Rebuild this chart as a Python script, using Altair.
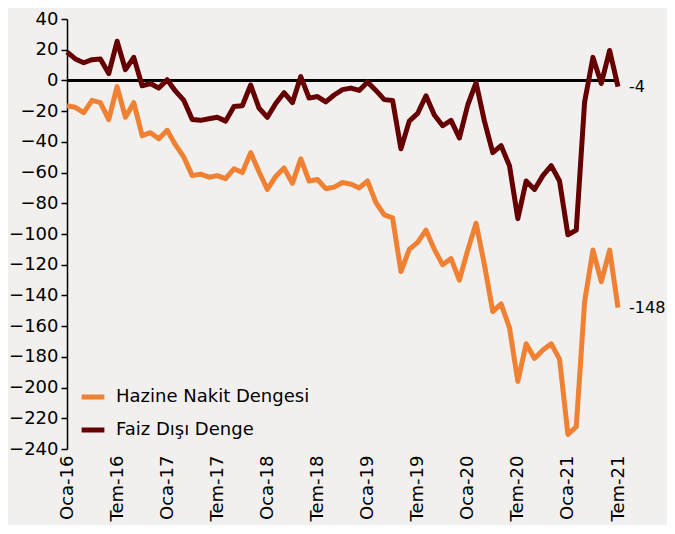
import json
import altair as alt
import pandas as pd

FONT = "DejaVu Sans"

series_names = ["Hazine Nakit Dengesi", "Faiz Dışı Denge"]
series_colors = ["#F08132", "#660000"]

tick_labels = ["Oca-16", "Tem-16", "Oca-17", "Tem-17", "Oca-18", "Tem-18",
               "Oca-19", "Tem-19", "Oca-20", "Tem-20", "Oca-21", "Tem-21"]

# monthly values, Oca-16 ... Tem-21 (67 months)
hazine = [-16.5, -17.5, -21, -13, -14.5, -25.5, -4, -24, -14.5, -36,
          -34, -38, -32.5, -42, -50, -62, -61, -63, -62, -64,
          -57.5, -60, -47, -59.5, -71, -62.5, -57, -67, -51, -65.5,
          -64.5, -70.5, -69.5, -66.5, -67.5, -70, -65.5, -79.5, -87.5, -89.5,
          -124.5, -110, -105.5, -97.5, -110, -120, -116, -130, -110.5, -93,
          -120, -150.5, -145.5, -161, -196, -171.5, -181, -175.5, -171.5, -181.5,
          -230.5, -225.5, -144, -110.5, -131, -110.5, -148]

faiz = [18.5, 14, 11.5, 13.5, 14, 4.5, 25.5, 7, 15, -3.5,
        -2, -5, 0.5, -7, -13, -25.5, -26, -25, -24, -26.5,
        -17, -16.5, -3, -18, -24, -15, -8, -14.5, 2.5, -11.5,
        -10.5, -14, -9.5, -6, -5, -6.5, -1, -6.5, -12.5, -13,
        -44.5, -26.5, -21.5, -10, -22.5, -29.5, -26, -37.5, -16, -1.5,
        -26.5, -47, -42.5, -55.5, -90, -65.5, -71, -62, -55.5, -65.5,
        -100.5, -97.5, -14, 15, -2, 19.5, -4]

end_labels = ["-148", "-4"]

rows = []
for name, vals in zip(series_names, [hazine, faiz]):
    for i, v in enumerate(vals):
        rows.append({"i": i, "v": v, "s": name})
df = pd.DataFrame(rows)

n = len(hazine) - 1
last_df = pd.DataFrame({"i": [n, n], "v": [hazine[-1], faiz[-1]], "t": end_labels})

label_expr = json.dumps(tick_labels) + "[round(datum.value / 6)]"

x_scale = alt.Scale(domain=[0, n], nice=False, zero=False)
y_scale = alt.Scale(domain=[-240, 40], nice=False)

x_axis = alt.Axis(values=list(range(0, n + 1, 6)), labelExpr=label_expr,
                  labelAngle=-90, domain=False, ticks=False, grid=False,
                  labelFont=FONT, labelFontSize=18, labelColor="black",
                  labelPadding=6, labelOverlap=False, title=None)
y_axis = alt.Axis(values=list(range(-240, 41, 20)), grid=False,
                  domainColor="black", domainWidth=1.5, tickColor="black",
                  tickWidth=1.5, tickSize=6, labelFont=FONT, labelFontSize=18,
                  labelColor="black", labelPadding=3, labelOverlap=False,
                  labelBound=False, title=None)

zero = alt.Chart(df).mark_rule(color="black", strokeWidth=2).encode(
    y=alt.YDatum(0, scale=y_scale, axis=y_axis))

lines = alt.Chart(df).mark_line(strokeWidth=5, strokeJoin="round").encode(
    x=alt.X("i:Q", scale=x_scale, axis=x_axis),
    y=alt.Y("v:Q", scale=y_scale, axis=y_axis),
    color=alt.Color("s:N", sort=series_names,
                    scale=alt.Scale(domain=series_names, range=series_colors),
                    legend=alt.Legend(title=None, orient="none", legendX=12, legendY=364,
                                      symbolType="stroke", symbolSize=520,
                                      symbolStrokeWidth=5, labelFont=FONT,
                                      labelFontSize=18, labelColor="black",
                                      labelOffset=9, rowPadding=9, padding=0,
                                      labelLimit=0)),
)

texts = alt.Chart(last_df).mark_text(align="left", baseline="middle", dx=11,
                                     font=FONT, fontSize=16, color="black").encode(
    x=alt.X("i:Q", scale=x_scale, axis=x_axis),
    y=alt.Y("v:Q", scale=y_scale, axis=y_axis),
    text="t:N")

chart = alt.layer(zero, lines, texts).properties(
    width=551, height=430,
    padding={"left": 59, "top": 11, "right": 49, "bottom": 76},
    autosize=alt.AutoSizeParams(type="none"),
    background="#F2F0EF",
).configure_view(stroke=None)

chart.save("out.html", embed_options={"renderer": "svg", "actions": False})
